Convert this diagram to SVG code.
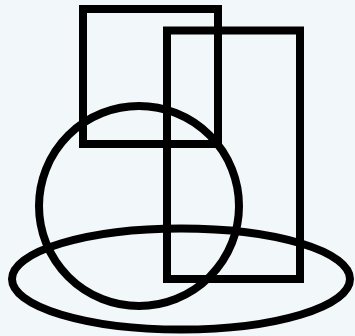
<svg xmlns="http://www.w3.org/2000/svg" width="355" height="336" viewBox="0 0 355 336">
<style>.s{fill:none;stroke:#000;stroke-width:8}</style>
<rect width="355" height="336" fill="#f2f7f9"/>
<g id="rect1"><rect class="s" x="83" y="9" width="135" height="135"/></g>
<g id="rect2"><rect class="s" x="167" y="30.5" width="133" height="248.5"/></g>
<g id="circle"><circle class="s" cx="139" cy="206" r="100"/></g>
<g id="ellipse"><ellipse class="s" cx="181" cy="279" rx="169" ry="50.5"/></g>
<g id="connectors"/>
</svg>
